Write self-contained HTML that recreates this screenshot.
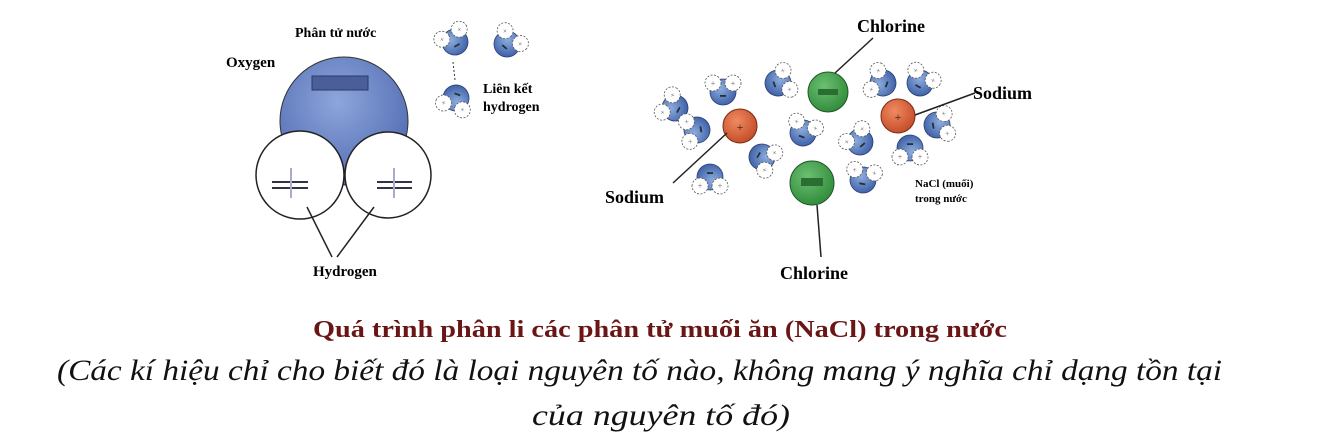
<!DOCTYPE html>
<html><head><meta charset="utf-8"><style>
html,body{margin:0;padding:0;background:#fff;}
svg{display:block;}
text{font-family:"Liberation Serif",serif;}
</style></head><body>
<svg width="1322" height="447" viewBox="0 0 1322 447">
<defs>
<radialGradient id="bo" cx="0.45" cy="0.35" r="0.7"><stop offset="0" stop-color="#8ea6dc"/><stop offset="1" stop-color="#4d68b0"/></radialGradient>
<radialGradient id="bw" cx="0.4" cy="0.35" r="0.7"><stop offset="0" stop-color="#8eaee0"/><stop offset="1" stop-color="#3c5fa6"/></radialGradient>
<radialGradient id="gr" cx="0.4" cy="0.35" r="0.7"><stop offset="0" stop-color="#6cc070"/><stop offset="1" stop-color="#2e8a3a"/></radialGradient>
<radialGradient id="or" cx="0.4" cy="0.35" r="0.7"><stop offset="0" stop-color="#f08a60"/><stop offset="1" stop-color="#c14a28"/></radialGradient>
<g id="w">
<circle cx="0" cy="0" r="13" fill="url(#bw)" stroke="#2c3e70" stroke-width="0.8"/>
<circle cx="-10" cy="-9" r="8" fill="#fff" stroke="#555" stroke-dasharray="2 1.5" stroke-width="0.8"/>
<circle cx="10" cy="-9" r="8" fill="#fff" stroke="#555" stroke-dasharray="2 1.5" stroke-width="0.8"/>
<text x="-10" y="-6" font-size="8" text-anchor="middle" fill="#666">+</text>
<text x="10" y="-6" font-size="8" text-anchor="middle" fill="#666">+</text>
<rect x="-3" y="3" width="6" height="1.8" fill="#233"/>
</g>
</defs>

<circle cx="344" cy="121" r="64" fill="url(#bo)" stroke="#333" stroke-width="1"/>
<rect x="312" y="76" width="56" height="14" fill="#4a5f9a" stroke="#2c3a66"/>
<circle cx="300" cy="175" r="44" fill="#fff" stroke="#222" stroke-width="1.5"/>
<circle cx="388" cy="175" r="43" fill="#fff" stroke="#222" stroke-width="1.5"/>
<g stroke="#334" stroke-width="2"><line x1="272" y1="182" x2="308" y2="182"/><line x1="272" y1="188" x2="308" y2="188"/><line x1="291" y1="168" x2="291" y2="198" stroke="#aac"/>
<line x1="377" y1="182" x2="412" y2="182"/><line x1="377" y1="188" x2="412" y2="188"/><line x1="394" y1="168" x2="394" y2="198" stroke="#aac"/></g>
<line x1="307" y1="207" x2="332" y2="257" stroke="#222" stroke-width="1.5"/>
<line x1="374" y1="207" x2="337" y2="257" stroke="#222" stroke-width="1.5"/>
<text x="295" y="37" font-size="14" font-weight="bold">Phân tử nước</text>
<text x="226" y="67" font-size="15" font-weight="bold">Oxygen</text>
<text x="313" y="276" font-size="15" font-weight="bold">Hydrogen</text>
<text x="483" y="93" font-size="14" font-weight="bold">Liên kết</text>
<text x="483" y="111" font-size="14" font-weight="bold">hydrogen</text>
<g transform="translate(455,42) rotate(-30)"><use href="#w"/></g>
<g transform="translate(507,44) rotate(40)"><use href="#w"/></g>
<g transform="translate(456,98) rotate(200)"><use href="#w"/></g>
<line x1="453" y1="62" x2="455" y2="80" stroke="#333" stroke-dasharray="2 2"/>

<g>
<g transform="translate(675,108) rotate(-60)"><use href="#w"/></g>
<g transform="translate(723,92) rotate(0)"><use href="#w"/></g>
<g transform="translate(697,130) rotate(-100)"><use href="#w"/></g>
<g transform="translate(710,177) rotate(180)"><use href="#w"/></g>
<g transform="translate(762,157) rotate(120)"><use href="#w"/></g>
<g transform="translate(778,83) rotate(70)"><use href="#w"/></g>
<g transform="translate(803,133) rotate(20)"><use href="#w"/></g>
<g transform="translate(860,142) rotate(-40)"><use href="#w"/></g>
<g transform="translate(883,83) rotate(-70)"><use href="#w"/></g>
<g transform="translate(920,83) rotate(30)"><use href="#w"/></g>
<g transform="translate(937,125) rotate(80)"><use href="#w"/></g>
<g transform="translate(910,148) rotate(180)"><use href="#w"/></g>
<g transform="translate(863,180) rotate(10)"><use href="#w"/></g>
</g>
<circle cx="828" cy="92" r="20" fill="url(#gr)" stroke="#1f5a28"/>
<rect x="818" y="89" width="20" height="6" fill="#2a6e32"/>
<circle cx="812" cy="183" r="22" fill="url(#gr)" stroke="#1f5a28"/>
<rect x="801" y="178" width="22" height="8" fill="#2a6e32"/>
<circle cx="740" cy="126" r="17" fill="url(#or)" stroke="#7a2a10"/>
<text x="740" y="131" font-size="12" text-anchor="middle" fill="#3a1a10">+</text>
<circle cx="898" cy="116" r="17" fill="url(#or)" stroke="#7a2a10"/>
<text x="898" y="121" font-size="12" text-anchor="middle" fill="#3a1a10">+</text>
<g stroke="#222" stroke-width="1.5">
<line x1="835" y1="73" x2="873" y2="38"/>
<line x1="915" y1="115" x2="975" y2="93"/>
<line x1="727" y1="133" x2="673" y2="183"/>
<line x1="817" y1="205" x2="821" y2="257"/>
</g>
<text x="857" y="32" font-size="18" font-weight="bold">Chlorine</text>
<text x="973" y="99" font-size="18" font-weight="bold">Sodium</text>
<text x="605" y="203" font-size="18" font-weight="bold">Sodium</text>
<text x="780" y="279" font-size="18" font-weight="bold">Chlorine</text>
<text x="915" y="187" font-size="11" font-weight="bold">NaCl (muối)</text>
<text x="915" y="202" font-size="11" font-weight="bold">trong nước</text>

<text x="313" y="337" font-size="24" font-weight="bold" fill="#6b1616" textLength="694" lengthAdjust="spacingAndGlyphs">Quá trình phân li các phân tử muối ăn (NaCl) trong nước</text>
<text x="57" y="380" font-size="30" font-style="italic" fill="#111" textLength="1165" lengthAdjust="spacingAndGlyphs">(Các kí hiệu chỉ cho biết đó là loại nguyên tố nào, không mang ý nghĩa chỉ dạng tồn tại</text>
<text x="532" y="425" font-size="30" font-style="italic" fill="#111" textLength="258" lengthAdjust="spacingAndGlyphs">của nguyên tố đó)</text>
</svg>
</body></html>
